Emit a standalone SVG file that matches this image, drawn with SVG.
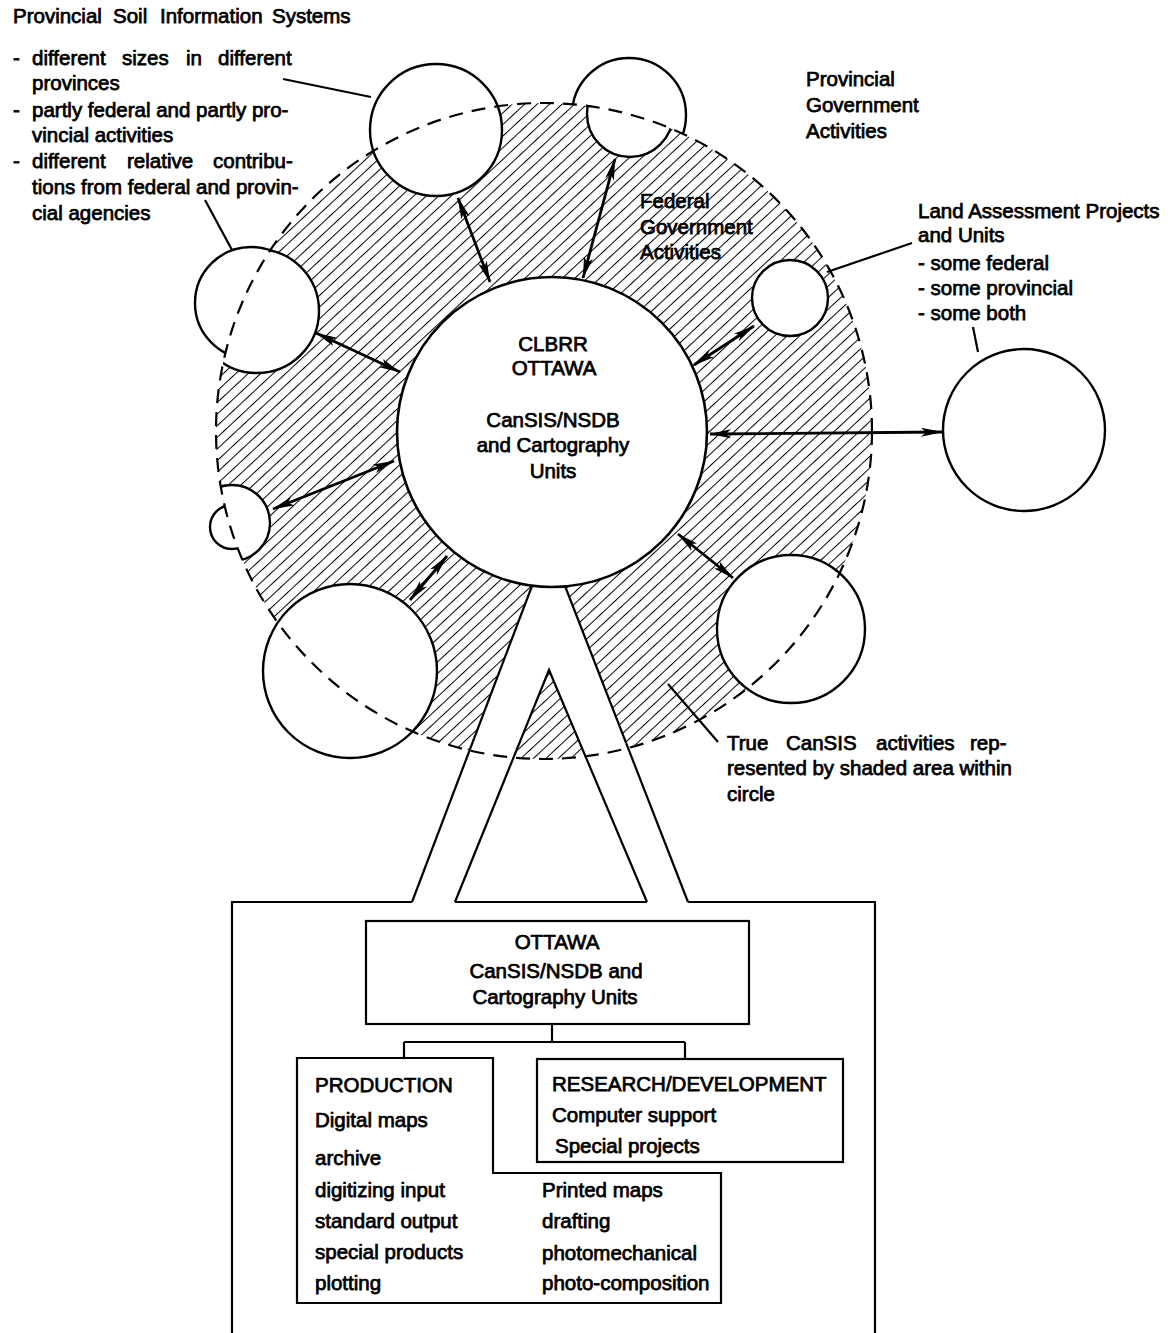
<svg xmlns="http://www.w3.org/2000/svg" width="1168" height="1333" viewBox="0 0 1168 1333">
<style>
.t{font-family:"Liberation Sans",Arial,Helvetica,sans-serif;font-size:20.5px;fill:#000;stroke:#000;stroke-width:0.75}
.m{text-anchor:middle}
.ln{fill:none;stroke:#000;stroke-width:2.2}
.sat{fill:#fff;stroke:#000;stroke-width:2.4}
.arr{fill:none;stroke:#000;stroke-width:2.8;marker-start:url(#ah);marker-end:url(#ah)}
.box{fill:#fff;stroke:#000;stroke-width:2.2}
</style>
<defs>
<pattern id="hatch" width="8.5" height="8.5" patternUnits="userSpaceOnUse" patternTransform="rotate(47)">
<line x1="0" y1="-1" x2="0" y2="10" stroke="#000" stroke-width="2"/>
</pattern>
<marker id="ah" markerWidth="22" markerHeight="10" refX="21" refY="5" orient="auto-start-reverse" markerUnits="userSpaceOnUse">
<path d="M0,0.5 L22,5 L0,9.5 L5,5 Z" fill="#000"/>
</marker>
<clipPath id="inC"><circle cx="544" cy="431" r="328"/></clipPath>
<clipPath id="outC"><path clip-rule="evenodd" d="M0,0H1168V1333H0Z M216,431 a328,328 0 1,0 656,0 a328,328 0 1,0 -656,0Z"/></clipPath>
</defs>
<rect width="1168" height="1333" fill="#fff"/>

<g id="cansis-area">
<circle cx="544" cy="431" r="328" fill="url(#hatch)"/>
<polygon points="532,586 412,902 455,902 549,670 647,902 688,902 565,586" fill="#fff"/>
</g>

<g id="provincial-systems">
<circle class="sat" cx="436" cy="130" r="66"/>
<circle class="sat" cx="629" cy="115" r="57" clip-path="url(#outC)"/>
<circle class="sat" cx="630" cy="114" r="43" clip-path="url(#inC)"/>
<circle class="sat" cx="251" cy="303" r="56" clip-path="url(#outC)"/>
<circle class="sat" cx="257" cy="311" r="62" clip-path="url(#inC)"/>
<circle class="sat" cx="232" cy="527" r="22" clip-path="url(#outC)"/>
<circle class="sat" cx="232" cy="523" r="38" clip-path="url(#inC)"/>
<circle class="sat" cx="350" cy="671" r="87"/>
<circle class="sat" cx="791" cy="629" r="74"/>
</g>
<g id="land-assessment">
<circle class="sat" cx="790" cy="298" r="38"/>
<circle class="sat" cx="1024" cy="430" r="81"/>
</g>

<g id="clbrr-ottawa">
<circle cx="552" cy="432" r="155" fill="#fff" stroke="#000" stroke-width="2.6"/>
<text class="t m" x="553" y="351">CLBRR</text>
<text class="t m" x="554" y="375">OTTAWA</text>
<text class="t m" x="553" y="427">CanSIS/NSDB</text>
<text class="t m" x="553" y="452">and Cartography</text>
<text class="t m" x="553" y="478">Units</text>
</g>

<g id="stand">
<line class="ln" x1="532" y1="586" x2="412" y2="902"/>
<polyline class="ln" points="455,902 549,670 647,902"/>
<line class="ln" x1="565" y1="586" x2="688" y2="902"/>
</g>

<g id="outer-boundary">
<circle cx="544" cy="431" r="328" fill="none" stroke="#000" stroke-width="2.2" stroke-dasharray="14 9"/>
</g>

<g id="connectors">
<line class="arr" x1="458" y1="198" x2="490" y2="282"/>
<line class="arr" x1="583" y1="278" x2="615" y2="159"/>
<line class="arr" x1="754" y1="326" x2="694" y2="365"/>
<line class="arr" x1="710" y1="434" x2="942" y2="432"/>
<line class="arr" x1="678" y1="534" x2="733" y2="578"/>
<line class="arr" x1="410" y1="600" x2="447" y2="556"/>
<line class="arr" x1="273" y1="509" x2="394" y2="461"/>
<line class="arr" x1="316" y1="333" x2="400" y2="372"/>
<line class="ln" x1="283" y1="79" x2="371" y2="97"/>
<line class="ln" x1="205" y1="200" x2="232" y2="250"/>
<line class="ln" x1="827" y1="272" x2="912" y2="243"/>
<line class="ln" x1="973" y1="327" x2="978" y2="352"/>
<line class="ln" x1="668" y1="684" x2="718" y2="742"/>
<line class="ln" x1="552" y1="1024" x2="552" y2="1042"/>
<line class="ln" x1="404" y1="1042" x2="685" y2="1042"/>
<line class="ln" x1="404" y1="1042" x2="404" y2="1058"/>
<line class="ln" x1="685" y1="1042" x2="685" y2="1059"/>
</g>

<g id="label-provincial-systems">
<text class="t" y="23"><tspan x="13">Provincial</tspan><tspan x="113">Soil</tspan><tspan x="160">Information</tspan><tspan x="272">Systems</tspan></text>
<text class="t" y="65"><tspan x="13">-</tspan><tspan x="32">different</tspan><tspan x="122">sizes</tspan><tspan x="186">in</tspan><tspan x="218">different</tspan></text>
<text class="t" x="32" y="90">provinces</text>
<text class="t" y="117"><tspan x="13">-</tspan><tspan x="32">partly federal and partly pro-</tspan></text>
<text class="t" x="32" y="142">vincial activities</text>
<text class="t" y="168"><tspan x="13">-</tspan><tspan x="32">different</tspan><tspan x="127">relative</tspan><tspan x="213">contribu-</tspan></text>
<text class="t" x="32" y="194">tions from federal and provin-</text>
<text class="t" x="32" y="220">cial agencies</text>
</g>

<g id="label-provincial-gov">
<text class="t" x="806" y="86">Provincial</text>
<text class="t" x="806" y="112">Government</text>
<text class="t" x="806" y="138">Activities</text>
</g>

<g id="label-federal-gov">
<text class="t" x="640" y="208">Federal</text>
<text class="t" x="640" y="234">Government</text>
<text class="t" x="640" y="259">Activities</text>
</g>

<g id="label-land-assessment">
<text class="t" x="918" y="218">Land Assessment Projects</text>
<text class="t" x="918" y="242">and Units</text>
<text class="t" x="918" y="270">- some federal</text>
<text class="t" x="918" y="295">- some provincial</text>
<text class="t" x="918" y="320">- some both</text>
</g>

<g id="label-true-cansis">
<text class="t" y="750"><tspan x="727">True</tspan><tspan x="786">CanSIS</tspan><tspan x="876">activities</tspan><tspan x="970">rep-</tspan></text>
<text class="t" x="727" y="775">resented by shaded area within</text>
<text class="t" x="727" y="801">circle</text>
</g>

<g id="frame">
<polyline class="ln" points="232,1333 232,902 412,902"/>
<line class="ln" x1="455" y1="902" x2="647" y2="902"/>
<polyline class="ln" points="688,902 875,902 875,1333"/>
</g>

<g id="ottawa-units">
<rect class="box" x="366" y="921" width="383" height="103"/>
<text class="t m" x="557" y="949">OTTAWA</text>
<text class="t m" x="556" y="978">CanSIS/NSDB and</text>
<text class="t m" x="555" y="1004">Cartography Units</text>
</g>

<g id="production">
<polygon class="box" points="297,1058 493,1058 493,1173 721,1173 721,1303 297,1303"/>
<text class="t" x="315" y="1092">PRODUCTION</text>
<text class="t" x="315" y="1127">Digital maps</text>
<text class="t" x="315" y="1165">archive</text>
<text class="t" x="315" y="1197">digitizing input</text>
<text class="t" x="315" y="1228">standard output</text>
<text class="t" x="315" y="1259">special products</text>
<text class="t" x="315" y="1290">plotting</text>
<text class="t" x="542" y="1197">Printed maps</text>
<text class="t" x="542" y="1228">drafting</text>
<text class="t" x="542" y="1260">photomechanical</text>
<text class="t" x="542" y="1290">photo-composition</text>
</g>

<g id="research">
<rect class="box" x="537" y="1059" width="306" height="103"/>
<text class="t" x="552" y="1091">RESEARCH/DEVELOPMENT</text>
<text class="t" x="552" y="1122">Computer support</text>
<text class="t" x="555" y="1153">Special projects</text>
</g>
</svg>
